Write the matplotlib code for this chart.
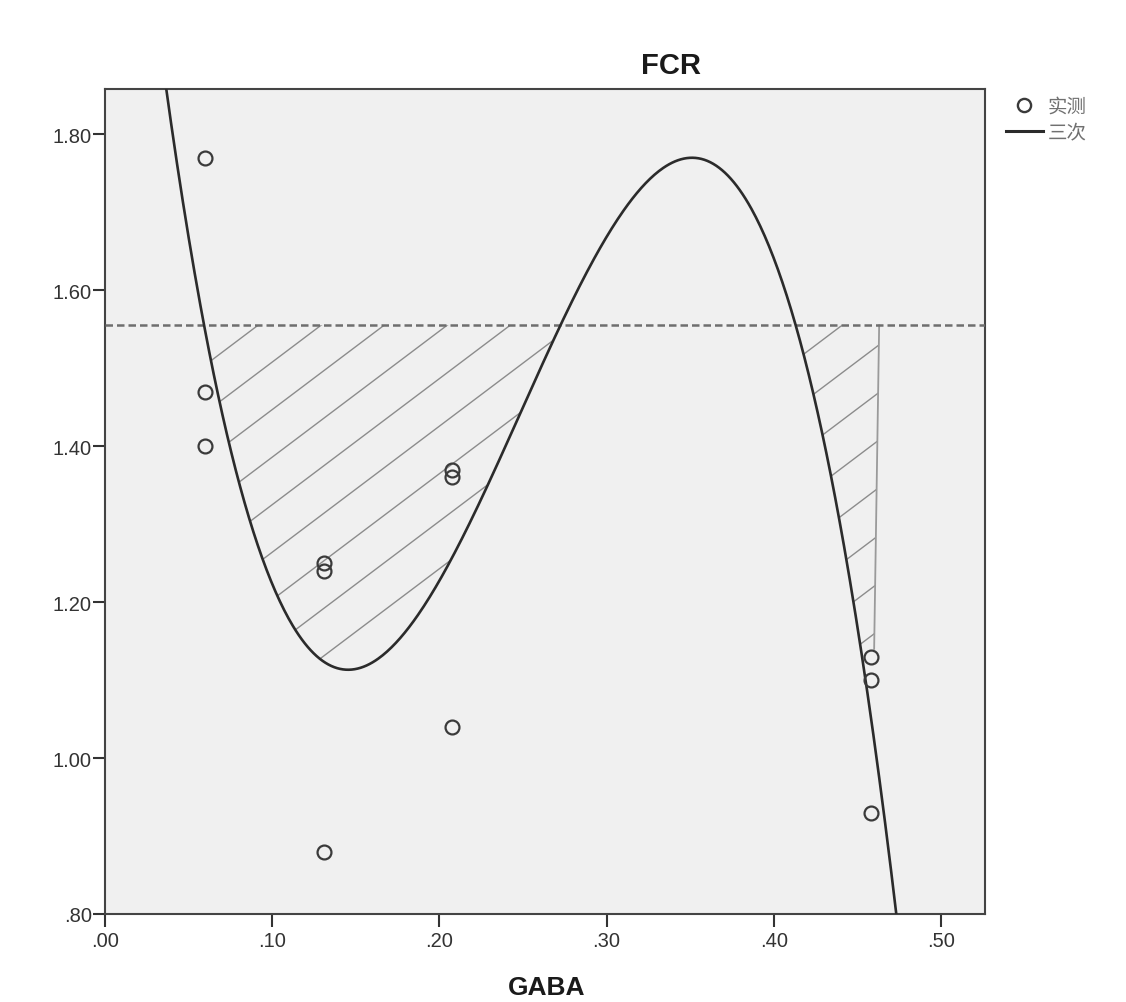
import numpy as np
import matplotlib
matplotlib.use("Agg")
import matplotlib.pyplot as plt
from matplotlib.patches import Polygon
from matplotlib.collections import LineCollection
from matplotlib.lines import Line2D

plt.rcParams['font.family'] = ['Liberation Sans', 'Noto Sans CJK SC', 'DejaVu Sans']

# === DATOS ===
gaba = [0.060, 0.060, 0.060, 0.131, 0.131, 0.131,
        0.2075, 0.2075, 0.2075, 0.458, 0.458, 0.458]
fcr = [1.77, 1.47, 1.40, 1.25, 1.24, 0.88,
       1.37, 1.36, 1.04, 1.13, 1.10, 0.93]
umbral = 1.555          # linea discontinua
corte_x = 0.46          # limite derecho de la zona rayada
fondo_derecha = 1.14    # donde termina la linea vertical gris
xticks = [0.0, 0.1, 0.2, 0.3, 0.4, 0.5]
xlabels = [".00", ".10", ".20", ".30", ".40", ".50"]
yticks = [0.8, 1.0, 1.2, 1.4, 1.6, 1.8]
ylabels = [".80", "1.00", "1.20", "1.40", "1.60", "1.80"]

# ajuste cubico
coef = np.polyfit(gaba, fcr, 3)
p = np.poly1d(coef)

fig = plt.figure(figsize=(11.26, 10.03), dpi=100)
ax = fig.add_axes([105/1126, 1-915/1003, 880/1126, 825/1003])
ax.set_facecolor('#f0f0f0')
ax.set_xlim(0, 0.5263)
ax.set_ylim(0.8, 1.858)

xs = np.linspace(0, 0.5263, 600)
ax.plot(xs, p(xs), color='#2b2b2b', lw=1.9, zorder=4)
ax.axhline(umbral, color='#6e6e6e', lw=1.8, ls=(0, (3.0, 1.6)), zorder=3)
ax.plot(gaba, fcr, 'o', mfc='none', mec='#3a3a3a', ms=10, mew=1.6, zorder=5)

# cruces de la curva con el umbral
raices = np.sort([r.real for r in (p - umbral).roots if abs(r.imag) < 1e-9])
a, b, c = raices[0], raices[1], raices[2]

# zona izquierda
xi = np.linspace(a, b, 200)
zona1 = Polygon(np.column_stack([xi, p(xi)]), closed=True, fc='none', ec='none')
ax.add_patch(zona1)

# zona derecha
x_fin = [r.real for r in (p - fondo_derecha).roots if abs(r.imag) < 1e-9 and c < r.real < 0.5][0]
xd = np.linspace(c, x_fin, 100)
pts = np.vstack([np.column_stack([xd, p(xd)]),
                 [[corte_x, fondo_derecha], [corte_x + 0.003, umbral]]])
zona2 = Polygon(pts, closed=True, fc='none', ec='none')
ax.add_patch(zona2)

pend = 1.617    # pendiente de las rayas en unidades de datos
paso = 0.0377
def rayas(ancla, zona):
    segs = []
    for x0 in ancla + paso * np.arange(-20, 20):
        segs.append([(x0 - 1.0, umbral - pend * 1.0), (x0 + 1.0, umbral + pend * 1.0)])
    lc = LineCollection(segs, colors='#8c8c8c', linewidths=1.0, zorder=2)
    ax.add_collection(lc)
    lc.set_clip_path(zona)

rayas(0.0915, zona1)
rayas(0.4408, zona2)
ax.plot([corte_x + 0.003, corte_x], [umbral, fondo_derecha], color='#9a9a9a', lw=1.3, zorder=2)

ax.set_xticks(xticks)
ax.set_xticklabels(xlabels)
ax.set_yticks(yticks)
ax.set_yticklabels(ylabels)
ax.tick_params(direction='out', length=9, width=1.5, color='#333333',
               labelsize=14.5, labelcolor='#333333')
ax.tick_params(axis='x', pad=3)
ax.tick_params(axis='y', pad=0.5)
for s in ax.spines.values():
    s.set_color('#444444')
    s.set_linewidth(1.5)

fig.text(671/1126, 1-66/1003, "FCR", ha='center', va='center',
         fontsize=21, fontweight='bold', color='#1a1a1a')
fig.text(547/1126, 1-988/1003, "GABA", ha='center', va='center',
         fontsize=19, fontweight='bold', color='#1a1a1a')

handles = [Line2D([], [], marker='o', ls='none', mfc='none', mec='#3a3a3a', ms=9.5, mew=1.7),
           Line2D([], [], color='#2b2b2b', lw=2.2)]
fig.legend(handles, ["实测", "三次"], loc='upper left',
           bbox_to_anchor=(1006/1126, 1-97/1003), frameon=False,
           prop={'family': ['Noto Sans CJK SC'], 'size': 14},
           labelcolor='#707070', handlelength=1.9, handletextpad=0.25,
           labelspacing=0.25, borderpad=0, borderaxespad=0)

fig.savefig("out.png", dpi=100)
